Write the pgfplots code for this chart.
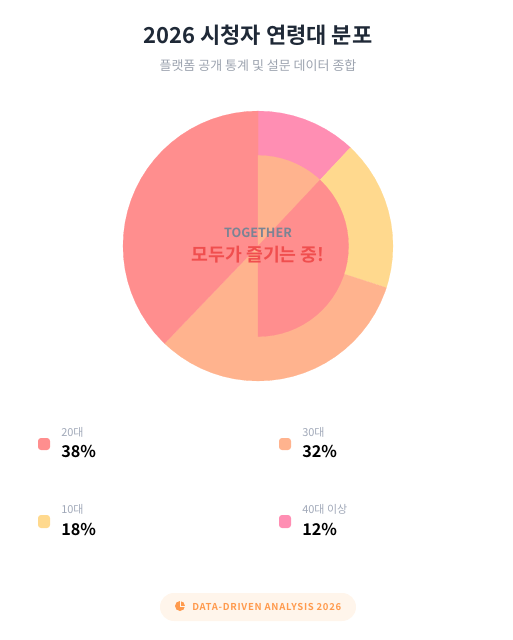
\documentclass[border=0pt]{standalone}
\usepackage{pgfplots}
\pgfplotsset{compat=1.18}
\usepgfplotslibrary{polar}
\usepackage{fontspec}
\setmainfont{Noto Sans CJK KR}[BoldFont={Noto Sans CJK KR Bold}]
\definecolor{cRed}{HTML}{FF8E8E}
\definecolor{cOrange}{HTML}{FFB38E}
\definecolor{cYellow}{HTML}{FFD98E}
\definecolor{cPink}{HTML}{FF8EB3}
\definecolor{cTitle}{HTML}{1F2937}
\definecolor{cSub}{HTML}{9CA3AF}
\definecolor{cLab}{HTML}{A0A8B8}
\definecolor{cPill}{HTML}{FFF5EB}
\definecolor{cPillText}{HTML}{FF9A4D}
\definecolor{cTog}{HTML}{7A8494}
\definecolor{cFun}{HTML}{F04E4E}
\newcommand{\px}[1]{\fontsize{\dimexpr #1pt*3/4\relax}{\dimexpr #1pt*9/10\relax}\selectfont}
\begin{document}
\begin{tikzpicture}
\path[use as bounding box] (0,0) rectangle (384.75pt,-480pt);
\begin{polaraxis}[
  at={(193.5pt,-184.5pt)},anchor=center,
  width=202.5pt,height=202.5pt,scale only axis,
  hide axis,clip=false,
  ymin=0,ymax=135,xmin=0,xmax=360]
% outer ring
\addplot[fill=cPink,draw=cPink,line width=0.1pt] coordinates {(0,0)(90,135)(85,135)(80,135)(75,135)(70,135)(65,135)(60,135)(55,135)(50,135)(46.8,135)} --cycle;
\addplot[fill=cYellow,draw=cYellow,line width=0.1pt] coordinates {(0,0)(46.8,135)(45,135)(40,135)(35,135)(30,135)(25,135)(20,135)(15,135)(10,135)(5,135)(0,135)(-5,135)(-10,135)(-15,135)(-18,135)} --cycle;
\addplot[fill=cOrange,draw=cOrange,line width=0.1pt] coordinates {(0,0)(-18,135)(-20,135)(-25,135)(-30,135)(-35,135)(-40,135)(-45,135)(-50,135)(-55,135)(-60,135)(-65,135)(-70,135)(-75,135)(-80,135)(-85,135)(-90,135)(-95,135)(-100,135)(-105,135)(-110,135)(-115,135)(-120,135)(-125,135)(-130,135)(-133.8,135)} --cycle;
\addplot[fill=cRed,draw=cRed,line width=0.1pt] coordinates {(0,0)(-133.8,135)(-135,135)(-140,135)(-145,135)(-150,135)(-155,135)(-160,135)(-165,135)(-170,135)(-175,135)(-180,135)(-185,135)(-190,135)(-195,135)(-200,135)(-205,135)(-210,135)(-215,135)(-220,135)(-225,135)(-230,135)(-235,135)(-240,135)(-245,135)(-250,135)(-255,135)(-260,135)(-265,135)(-270,135)} --cycle;
% inner ring
\addplot[fill=cOrange,draw=cOrange,line width=0.1pt] coordinates {(0,0)(90,90.6)(85,90.6)(80,90.6)(75,90.6)(70,90.6)(65,90.6)(60,90.6)(55,90.6)(50,90.6)(46.8,90.6)} --cycle;
\addplot[fill=cRed,draw=cRed,line width=0.1pt] coordinates {(0,0)(46.8,90.6)(45,90.6)(40,90.6)(35,90.6)(30,90.6)(25,90.6)(20,90.6)(15,90.6)(10,90.6)(5,90.6)(0,90.6)(-5,90.6)(-10,90.6)(-15,90.6)(-20,90.6)(-25,90.6)(-30,90.6)(-35,90.6)(-40,90.6)(-45,90.6)(-50,90.6)(-55,90.6)(-60,90.6)(-65,90.6)(-70,90.6)(-75,90.6)(-80,90.6)(-85,90.6)(-90,90.6)} --cycle;
\end{polaraxis}
\begin{scope}[x=0.75pt,y=-0.75pt]
% titles
\node[anchor=center,text=cTitle] at (258,35.5) {\px{22}\bfseries 2026 시청자 연령대 분포};
\node[anchor=center,text=cSub] at (258,66) {\px{13}플랫폼 공개 통계 및 설문 데이터 종합};
% centre text
\node[anchor=center,text=cTog] at (258,233) {\px{12.6}\bfseries TOGETHER};
\node[anchor=center,text=cFun] at (258,255) {\px{18.3}\bfseries 모두가 즐기는 중!};
% legend
\fill[cRed,rounded corners=2.25pt] (38,438) rectangle (50,450);
\fill[cOrange,rounded corners=2.25pt] (279,438) rectangle (291,450);
\fill[cYellow,rounded corners=2.25pt] (38,515) rectangle (50,528);
\fill[cPink,rounded corners=2.25pt] (279,515) rectangle (291,528);
\node[anchor=west,inner sep=0,text=cLab] at (61,432) {\px{11}20대};
\node[anchor=west,inner sep=0,text=cLab] at (302,432) {\px{11}30대};
\node[anchor=west,inner sep=0,text=cLab] at (61,509) {\px{11}10대};
\node[anchor=west,inner sep=0,text=cLab] at (302,509) {\px{11}40대 이상};
\node[anchor=west,inner sep=0] at (61,451.5) {\px{16.2}\bfseries 38\%};
\node[anchor=west,inner sep=0] at (302,451.5) {\px{16.2}\bfseries 32\%};
\node[anchor=west,inner sep=0] at (61,529.5) {\px{16.2}\bfseries 18\%};
\node[anchor=west,inner sep=0] at (302,529.5) {\px{16.2}\bfseries 12\%};
% pill
\fill[cPill,rounded corners=10.4pt] (160,593) rectangle (356,621);
\fill[cPillText] (180,606) circle[radius=3.75pt];
\draw[cPill,line width=0.5pt] (180,606) -- (180,600) (180,606) -- (186,606);
\node[anchor=west,inner sep=0,text=cPillText] at (192,606.5) {\addfontfeature{LetterSpace=7.5}\px{9.5}\bfseries DATA-DRIVEN ANALYSIS 2026};
\end{scope}
\end{tikzpicture}
\end{document}
